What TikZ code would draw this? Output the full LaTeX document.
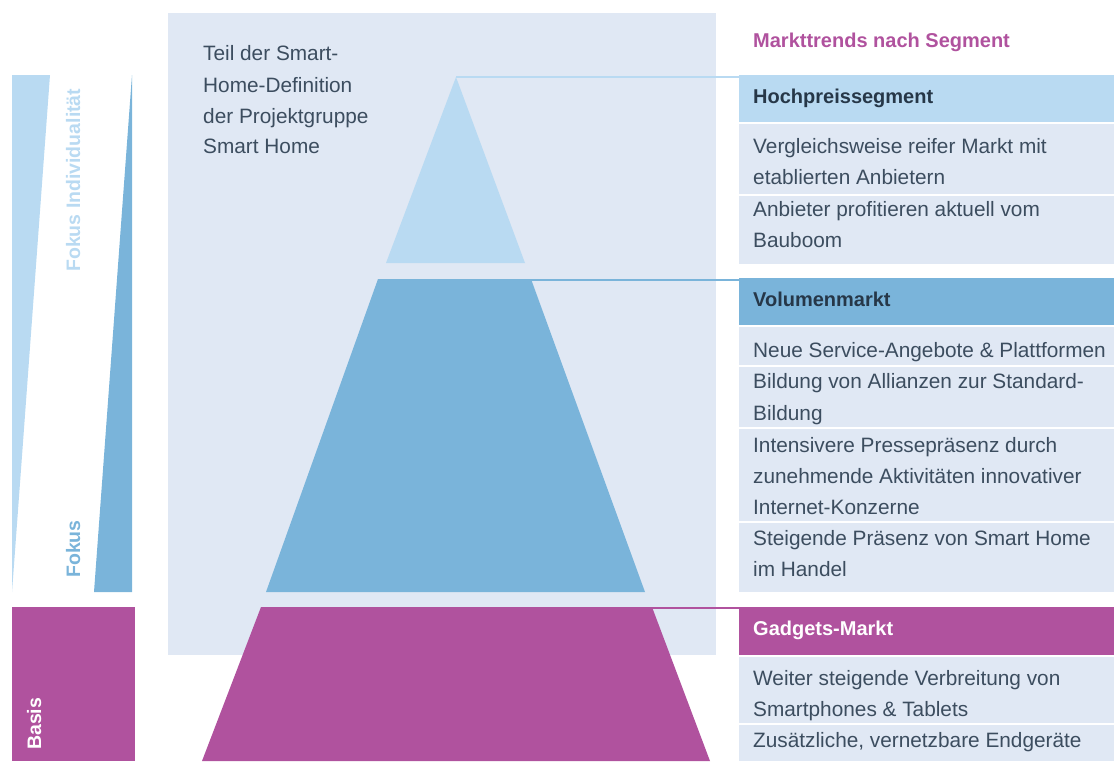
\documentclass[tikz,border=0pt]{standalone}
\usepackage{fontspec}
\setmainfont{Liberation Sans}
\definecolor{lblue}{HTML}{B9DAF2}
\definecolor{mblue}{HTML}{7AB4DA}
\definecolor{magenta}{HTML}{B0529E}
\definecolor{bgc}{HTML}{E0E8F4}
\definecolor{textc}{HTML}{3C4D5F}
\definecolor{hdrc}{HTML}{263748}
\begin{document}
\begin{tikzpicture}[x=1pt,y=-1pt,
  txt/.style={anchor=base west, inner sep=0, font=\fontsize{20.8}{25}\selectfont, text=textc},
  hdr/.style={anchor=base west, inner sep=0, font=\fontsize{20}{24}\selectfont\bfseries, text=hdrc},
  vlab/.style={anchor=base west, inner sep=0, rotate=90, font=\fontsize{19.5}{24}\selectfont\bfseries},
  hbox/.style={anchor=north west, inner sep=0, minimum width=375pt, minimum height=47pt},
  ibox/.style={fill=bgc, draw=none},
  conn/.style={line width=2pt}
]
\useasboundingbox (0,0) rectangle (1114,761);
% background panel
\fill[bgc] (168,13) rectangle (716,655);
% left indicator bars
\fill[lblue] (12,75) -- (50,75) -- (12,592) -- cycle;
\fill[mblue] (132,75) -- (132,592) -- (94,592) -- cycle;
\fill[magenta] (12,607) rectangle (135,761);
\node[vlab, text=lblue] (fi) at (80,272) {Fokus Individualität};
\node[vlab, text=mblue] (fo) at (80,578) {Fokus};
\node[vlab, text=white] (ba) at (41,750) {Basis};
% pyramid
\fill[lblue] (456,77) -- (525,263) -- (386,263) -- cycle;
\fill[mblue] (378,279) -- (531,279) -- (645,592) -- (266,592) -- cycle;
\fill[magenta] (261,607) -- (652,607) -- (710,761) -- (202,761) -- cycle;
\coordinate (apex) at (456,77);
\coordinate (mtop) at (530,280);
\coordinate (btop) at (650,607.5);
% definition text
\node[txt] (d1) at (203,60) {Teil der Smart-};
\node[txt] (d2) at (203,92) {Home-Definition};
\node[txt] (d3) at (203,123) {der Projektgruppe};
\node[txt] (d4) at (203,153) {Smart Home};
% title
\node[hdr, text=magenta] (title) at (753,47) {Markttrends nach Segment};
% item boxes
\fill[ibox] (739,124) rectangle (1114,194);
\fill[ibox] (739,196) rectangle (1114,264);
\fill[ibox] (739,327) rectangle (1114,365);
\fill[ibox] (739,367) rectangle (1114,427);
\fill[ibox] (739,429) rectangle (1114,521);
\fill[ibox] (739,523) rectangle (1114,592);
\fill[ibox] (739,657) rectangle (1114,723);
\fill[ibox] (739,725) rectangle (1114,761);
% header boxes
\node[hbox, fill=lblue] (h1) at (739,75) {};
\node[hbox, fill=mblue] (h2) at (739,278) {};
\node[hbox, fill=magenta, minimum height=48pt] (h3) at (739,607) {};
% connectors
\draw[conn, lblue] (apex) -- (apex -| h1.west);
\draw[conn, mblue] (mtop) -- (mtop -| h2.west);
\draw[conn, magenta] (btop) -- (btop -| h3.west);
% header texts
\node[hdr] (t1) at (753,103) {Hochpreissegment};
\node[hdr] (t2) at (753,306) {Volumenmarkt};
\node[hdr, text=white] (t3) at (753,635) {Gadgets-Markt};
% item texts
\node[txt] (a1) at (753,153) {Vergleichsweise reifer Markt mit};
\node[txt] (a2) at (753,184) {etablierten Anbietern};
\node[txt] (a3) at (753,216) {Anbieter profitieren aktuell vom};
\node[txt] (a4) at (753,247) {Bauboom};
\node[txt] (b1) at (753,357) {Neue Service-Angebote \& Plattformen};
\node[txt] (b2) at (753,388) {Bildung von Allianzen zur Standard-};
\node[txt] (b3) at (753,420) {Bildung};
\node[txt] (b4) at (753,452) {Intensivere Pressepräsenz durch};
\node[txt] (b5) at (753,483) {zunehmende Aktivitäten innovativer};
\node[txt] (b6) at (753,514) {Internet-Konzerne};
\node[txt] (b7) at (753,545) {Steigende Präsenz von Smart Home};
\node[txt] (b8) at (753,576) {im Handel};
\node[txt] (c1) at (753,685) {Weiter steigende Verbreitung von};
\node[txt] (c2) at (753,716) {Smartphones \& Tablets};
\node[txt] (c3) at (753,747) {Zusätzliche, vernetzbare Endgeräte};
\end{tikzpicture}
\end{document}
